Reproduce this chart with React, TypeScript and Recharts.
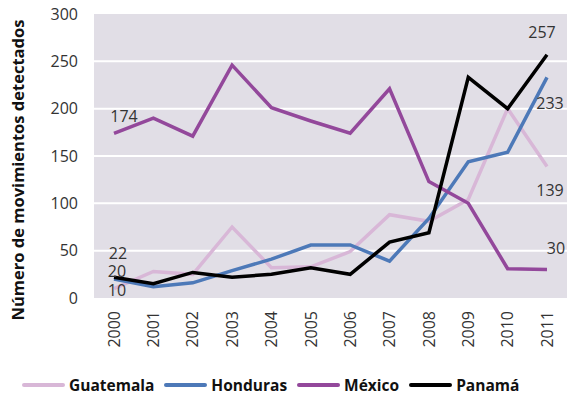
import React from 'react';
import { LineChart, Line, XAxis, YAxis, CartesianGrid, Legend, LabelList } from 'recharts';

const years = ['2000', '2001', '2002', '2003', '2004', '2005', '2006', '2007', '2008', '2009', '2010', '2011'];
const guatemala = [10, 28, 25, 75, 32, 33, 49, 88, 81, 104, 200, 139];
const honduras = [20, 12, 16, 29, 41, 56, 56, 39, 84, 144, 154, 233];
const mexico = [174, 190, 171, 246, 201, 187, 174, 221, 123, 100, 31, 30];
const panama = [22, 15, 27, 22, 25, 32, 25, 59, 69, 233, 200, 257];
const yTicks = [0, 50, 100, 150, 200, 250, 300];

const series = [
  { key: 'Guatemala', color: '#d8b7d7' },
  { key: 'Honduras', color: '#4d79b8' },
  { key: 'México', color: '#93489b' },
  { key: 'Panamá', color: '#000000' },
];

const data = years.map((y, i) => ({
  year: y,
  Guatemala: guatemala[i],
  Honduras: honduras[i],
  México: mexico[i],
  Panamá: panama[i],
}));

const FONT = '"Open Sans", sans-serif';
const TXT = '#333333';

const makeLabel = (spec: Record<number, [number, number]>) => (props: any) => {
  const { x, y, index, value } = props;
  const s = spec[index];
  if (!s) return null;
  return (
    <text x={x + s[0]} y={y + s[1]} dy="0.36em" textAnchor="middle" fontSize={16} fontFamily={FONT} fill={TXT}>
      {value}
    </text>
  );
};

const labelSpecs: Record<string, Record<number, [number, number]>> = {
  Guatemala: { 0: [3, 2], 11: [3, 24] },
  Honduras: { 0: [3, -8], 11: [3, 26] },
  México: { 0: [10, -17], 11: [9, -21] },
  Panamá: { 0: [4, -24], 11: [-5, -22] },
};

const XTick = (props: any) => {
  const { x, y, payload } = props;
  return (
    <g transform={`translate(${x},${y})`}>
      <text transform="rotate(-90)" x={0} y={0} dy="0.36em" textAnchor="end" fontSize={16} fontFamily={FONT} fill={TXT}>
        {payload.value}
      </text>
    </g>
  );
};

const YTick = (props: any) => {
  const { x, y, payload } = props;
  return (
    <text x={x} y={y} dy="0.36em" textAnchor="end" fontSize={16} fontFamily={FONT} fill={TXT}>
      {payload.value}
    </text>
  );
};

const YTitle = (props: any) => {
  const vb = props.viewBox;
  const cx = 18;
  const cy = vb.y + vb.height / 2 + 14;
  return (
    <text
      x={cx}
      y={cy}
      transform={`rotate(-90, ${cx}, ${cy})`}
      textAnchor="middle"
      dy="0.36em"
      fontSize={16.5}
      fontWeight="bold"
      fontFamily={FONT}
      fill="#111111"
    >
      Número de movimientos detectados
    </text>
  );
};

const LegendContent = () => (
  <div style={{ display: 'flex', alignItems: 'center', fontFamily: FONT }}>
    {series.map((s) => (
      <div key={s.key} style={{ display: 'flex', alignItems: 'center', marginRight: 10 }}>
        <span style={{ display: 'inline-block', width: 43, height: 4, background: s.color, marginRight: 4, borderRadius: 2 }} />
        <span style={{ fontSize: 15.5, fontWeight: 'bold', color: '#111111' }}>{s.key}</span>
      </div>
    ))}
  </div>
);

export default function App() {
  return (
    <div style={{ position: 'absolute', left: 0, top: 0, width: 577, height: 400, background: '#ffffff' }}>
      <LineChart width={577} height={400} data={data} margin={{ top: 14, right: 10, bottom: 44, left: 0 }}>
        <CartesianGrid
          horizontal={true}
          vertical={false}
          stroke="#ffffff"
          strokeWidth={2}
          fill="#e1dee6"
          horizontalValues={[50, 100, 150, 200, 250]}
        />
        <XAxis
          dataKey="year"
          axisLine={false}
          tickLine={false}
          tickSize={0}
          tickMargin={13}
          height={58}
          interval={0}
          padding={{ left: 20, right: 20 }}
          tick={<XTick />}
        />
        <YAxis
          domain={[0, 300]}
          ticks={yTicks}
          width={94}
          axisLine={false}
          tickLine={false}
          tickSize={0}
          tickMargin={16}
          tick={<YTick />}
          label={<YTitle />}
        />
        <Legend
          layout="horizontal"
          verticalAlign="middle"
          align="center"
          content={<LegendContent />}
          wrapperStyle={{ position: 'absolute', top: 374, left: 22, width: 560, height: 22 }}
        />
        {series.map((s) => (
          <Line
            key={s.key}
            type="linear"
            dataKey={s.key}
            stroke={s.color}
            strokeWidth={3.5}
            dot={false}
            activeDot={false}
            isAnimationActive={false}
            strokeLinejoin="miter"
          >
            <LabelList dataKey={s.key} content={makeLabel(labelSpecs[s.key])} />
          </Line>
        ))}
      </LineChart>
    </div>
  );
}
